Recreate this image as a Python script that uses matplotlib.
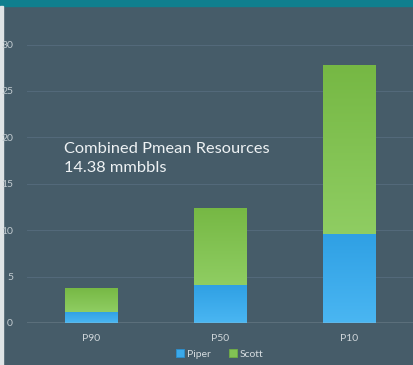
import matplotlib
matplotlib.use("Agg")
import matplotlib.pyplot as plt
import numpy as np
from matplotlib.patches import Rectangle

categories = ["P90", "P50", "P10"]
piper = [1.2, 4.1, 9.6]
scott = [2.6, 8.3, 18.2]
yticks = [0, 5, 10, 15, 20, 25, 30]

plt.rcParams['font.family'] = ['Lato', 'DejaVu Sans']

W, H = 413, 365
fig = plt.figure(figsize=(W/100, H/100), dpi=100)
bg = "#465c69"
fig.patch.set_facecolor(bg)

# top teal band and left light strip
fig.add_artist(Rectangle((0, 1 - 6/H), 1, 6/H, transform=fig.transFigure, color="#0f7f8e", zorder=0))
fig.add_artist(Rectangle((0, 0), 3/W, 1 - 6/H, transform=fig.transFigure, color="#dfe4e6", zorder=0))

ax = fig.add_axes([27/W, (H-323)/H, (W-27)/W, (323-26)/H])
ax.set_facecolor(bg)
for s in ax.spines.values():
    s.set_visible(False)

x = np.arange(len(categories))
w = 0.405
b1 = ax.bar(x, piper, width=w, color="#3aa9ea", zorder=3, edgecolor="#2a8fcf", linewidth=0.6, label="Piper")
b2 = ax.bar(x, scott, width=w, bottom=piper, color="#82c254", zorder=3, edgecolor="#6fae44", linewidth=0.6, label="Scott")

# subtle gradients
def grad(bars, c_top, c_bot):
    for p in bars:
        x0, y0 = p.get_x(), p.get_y()
        wd, ht = p.get_width(), p.get_height()
        t = np.linspace(0, 1, 64)[:, None]
        ct = np.array(matplotlib.colors.to_rgb(c_top))
        cb = np.array(matplotlib.colors.to_rgb(c_bot))
        img = ct[None, None, :] * (1 - t[..., None]) + cb[None, None, :] * t[..., None]
        img = np.repeat(img, 2, axis=1)
        im = ax.imshow(img, extent=[x0, x0+wd, y0, y0+ht], aspect='auto', zorder=3.5, origin='upper')
        im.set_clip_path(p)
grad(b1, "#2fa0e4", "#4ab6f2")
grad(b2, "#76b844", "#8fcd62")

ax.set_xlim(-0.5, 2.5)
ax.set_ylim(0, 32)
ax.set_yticks(yticks)
ax.set_yticklabels([str(v) for v in yticks])
ax.set_xticks(x)
ax.set_xticklabels(categories)
ax.tick_params(axis='y', length=0, pad=10, labelsize=7.5, labelcolor="#c3ccd1")
ax.tick_params(axis='x', length=0, pad=8, labelsize=7.5, labelcolor="#d0d7db")
ax.yaxis.grid(True, color="#53697a", linewidth=0.8, zorder=0)
ax.set_axisbelow(True)
ax.axhline(0, color="#b4c0c6", linewidth=1.0, zorder=4)

ax.text(-0.21, 17.7, "Combined Pmean Resources\n14.38 mmbbls", color="#eef2f4",
        fontsize=11.8, va='center', ha='left', linespacing=1.5, zorder=5)

leg = fig.legend(handles=[b1, b2], labels=["Piper", "Scott"], loc='center', bbox_to_anchor=(220/W, (H-354)/H),
                 ncol=2, frameon=False, fontsize=7.5, handlelength=0.7, handleheight=0.7,
                 handletextpad=0.3, columnspacing=1.8, labelcolor="#d6dde0")

fig.savefig("out.png", dpi=100, facecolor=fig.get_facecolor())
